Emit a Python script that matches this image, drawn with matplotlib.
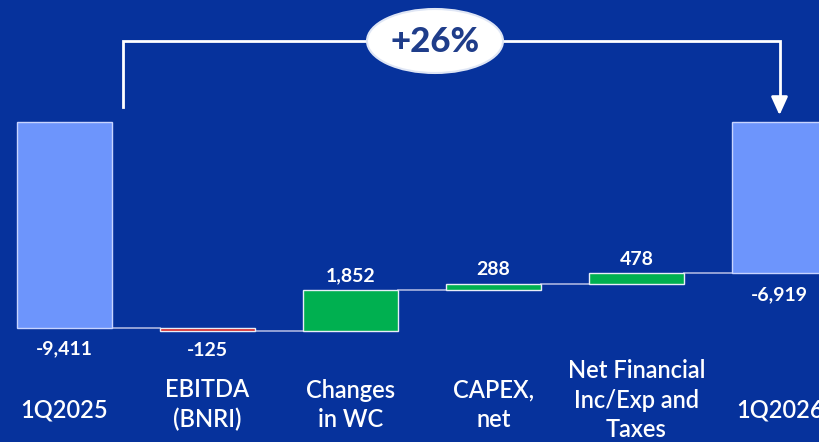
import matplotlib
matplotlib.use("Agg")
import matplotlib.pyplot as plt
from matplotlib.patches import Ellipse
import numpy as np

categories = ["1Q2025", "EBITDA\n(BNRI)", "Changes\nin WC", "CAPEX,\nnet",
              "Net Financial\nInc/Exp and\nTaxes", "1Q2026"]
values = [-9411, -125, 1852, 288, 478, -6919]
is_total = [True, False, False, False, False, True]
value_labels = ["-9,411", "-125", "1,852", "288", "478", "-6,919"]
change_label = "+26%"

W, H = 819, 442
fig = plt.figure(figsize=(W / 100, H / 100), dpi=100)
bg = "#06329c"
fig.patch.set_facecolor(bg)
ax = fig.add_axes([0, 0, 1, 1])
ax.set_facecolor(bg)

# pixel <-> data mapping
step_px = 143.0
x0_px = 64.5
zero_px = 122.0
scale = 206.0 / 9411.0  # px per unit
ax.set_xlim(-x0_px / step_px, (W - x0_px) / step_px)
ax.set_ylim(-(H - zero_px) / scale, zero_px / scale)
ax.axis("off")

def py(px):  # pixel y (from top) to data y
    return (zero_px - px) / scale

def px_x(px):
    return (px - x0_px) / step_px

width = 0.67
font = "Lato"

cum = 0
tops = []
for i, (v, tot) in enumerate(zip(values, is_total)):
    if tot:
        bottom, height = 0, v
        color = "#6d95fc"
        ec = "#c8d4ff"
        level = v
    else:
        bottom, height = cum, v
        color = "#00b050" if v > 0 else "#d42020"
        ec = "#e8eef8"
        level = cum + v
    ax.bar(i, height, bottom=bottom, width=width, color=color,
           edgecolor=ec, linewidth=1.0, zorder=3)
    cum = level
    tops.append(level)

# connectors
for i in range(len(values) - 1):
    ax.plot([i + width / 2, i + 1 - width / 2], [tops[i], tops[i]],
            color="#aab4e0", lw=1.2, zorder=2)

# value labels
cum = 0
for i, (v, tot, lab) in enumerate(zip(values, is_total, value_labels)):
    if tot:
        y = v
        off = -9
        va = "top"
        cum = v
    else:
        lo, hi = sorted([cum, cum + v])
        cum = cum + v
        if v > 0:
            y, off, va = hi, 4, "bottom"
        else:
            y, off, va = lo, -8, "top"
    ax.annotate(lab, (i, y), xytext=(0, off), textcoords="offset points",
                ha="center", va=va, color="white", fontsize=14,
                fontweight="bold", family=font, zorder=5)

# category labels
for i, c in enumerate(categories):
    n = c.count("\n") + 1
    ax.text(i, py(410 - 5 * (n - 1)), c, ha="center", va="center",
            color="white", fontsize=17, fontweight="semibold", family=font,
            linespacing=1.35, zorder=5)

# bracket with arrow
lx = px_x(123)
rx = 5
ytop = py(41)
ax.plot([lx, lx, rx, rx], [py(107), ytop, ytop, py(100)], color="white",
        lw=2, zorder=4, solid_joinstyle="miter")
ax.annotate("", xy=(rx, py(118)), xytext=(rx, py(97)),
            arrowprops=dict(arrowstyle="-|>,head_width=0.5,head_length=1.1",
                            color="white", lw=2), zorder=4)
ell = Ellipse((px_x(435), py(41)), width=136 / step_px, height=64 / scale,
              facecolor="white", edgecolor="#dfe6f5", lw=1.5, zorder=6)
ax.add_patch(ell)
ax.text(px_x(435), py(42), change_label, ha="center", va="center",
        color="#1f3d8a", fontsize=25, fontweight="black", family=font, zorder=7)

fig.savefig("out.png", dpi=100, facecolor=bg)
